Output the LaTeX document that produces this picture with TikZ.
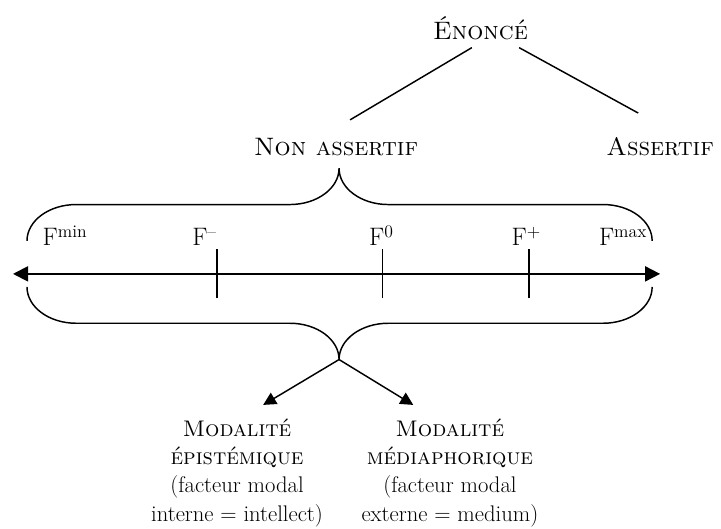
\documentclass[tikz,border=0pt]{standalone}
\usetikzlibrary{arrows.meta}
\begin{document}
\begin{tikzpicture}[
        >={Triangle[length=4mm,width=4mm]},
        line width=1.1pt,
        every node/.style={inner sep=0pt, font=\fontsize{19}{23}\selectfont},
        modal/.style={align=center, font=\fontsize{17}{21.4}\selectfont}
    ]
    \useasboundingbox (0,0) rectangle (19.07,13.99);

    % Enonce and its two kinds
    \node[anchor=base] (enonce) at (12.71,12.94) {\textsc{Énoncé}};
    \node[anchor=base] (nonassert) at (8.89,9.89) {\textsc{Non assertif}};
    \node[anchor=base] (assert) at (17.46,9.89) {\textsc{Assertif}};

    \draw ([shift={(-0.23,-0.21)}]enonce.base) -- ([shift={(0.37,0.93)}]nonassert.base);
    \draw ([shift={(1.02,-0.21)}]enonce.base) -- ([shift={(-0.58,1.11)}]assert.base);

    % Upper brace
    \coordinate (toptip) at (8.968,9.54);
    \draw (0.714,7.62) arc[start angle=180, end angle=90, x radius=1.3, y radius=0.96]
      -- (7.668,8.58) arc[start angle=270, end angle=360, x radius=1.3, y radius=0.96]
      arc[start angle=180, end angle=270, x radius=1.3, y radius=0.96]
      -- (15.949,8.58) arc[start angle=90, end angle=0, x radius=1.3, y radius=0.96];

    % Scale of forces
    \draw[<->, line width=1.4pt] (0.344,6.746) -- (17.46,6.746);
    \foreach \x in {5.74,10.11,13.99}
      \draw (\x,6.11) -- (\x,7.41);

    \node[anchor=base] (fmin) at (1.72,7.49) {F\textsuperscript{min}};
    \node[anchor=base] (fminus) at (5.41,7.49) {F\textsuperscript{–}};
    \node[anchor=base] (fzero) at (10.09,7.49) {F\textsuperscript{0}};
    \node[anchor=base] (fplus) at (13.92,7.49) {F\textsuperscript{+}};
    \node[anchor=base] (fmax) at (16.48,7.49) {F\textsuperscript{max}};

    % Lower brace
    \coordinate (bottip) at (8.968,4.48);
    \draw (0.714,6.40) arc[start angle=180, end angle=270, x radius=1.3, y radius=0.96]
      -- (7.668,5.44) arc[start angle=90, end angle=0, x radius=1.3, y radius=0.96]
      arc[start angle=180, end angle=90, x radius=1.3, y radius=0.96]
      -- (15.949,5.44) arc[start angle=270, end angle=360, x radius=1.3, y radius=0.96];

    % Modalities
    \node[modal, anchor=north] (episteme) at (6.27,2.94)
      {\textsc{Modalité}\\\textsc{épistémique}\\(facteur modal\\interne = intellect)};
    \node[modal, anchor=north] (mediaph) at (11.9,2.94)
      {\textsc{Modalité}\\\textsc{médiaphorique}\\(facteur modal\\externe = medium)};

    \draw[->, >={Triangle[length=3.4mm,width=3.4mm]}]
      (bottip) -- ([shift={(0.69,0.34)}]episteme.north);
    \draw[->, >={Triangle[length=3.4mm,width=3.4mm]}]
      (bottip) -- ([shift={(-0.97,0.34)}]mediaph.north);
\end{tikzpicture}
\end{document}
